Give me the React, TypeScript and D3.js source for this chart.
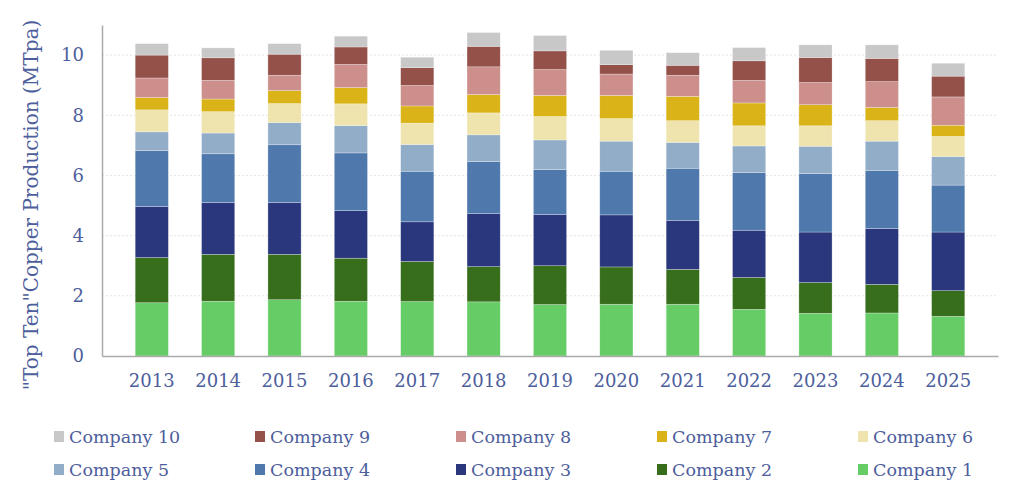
import React, { useEffect, useRef } from "react";
import * as d3 from "d3";

// Production by company, MTpa
const years = ["2013", "2014", "2015", "2016", "2017", "2018", "2019", "2020", "2021", "2022", "2023", "2024", "2025"];
const companies = ["Company 1", "Company 2", "Company 3", "Company 4", "Company 5", "Company 6", "Company 7", "Company 8", "Company 9", "Company 10"];

const company1 = [1.77, 1.82, 1.87, 1.82, 1.81, 1.8, 1.71, 1.72, 1.72, 1.55, 1.42, 1.43, 1.32];
const company2 = [1.5, 1.56, 1.51, 1.43, 1.33, 1.17, 1.29, 1.24, 1.16, 1.06, 1.02, 0.95, 0.85];
const company3 = [1.7, 1.72, 1.72, 1.58, 1.32, 1.76, 1.7, 1.73, 1.63, 1.57, 1.68, 1.86, 1.95];
const company4 = [1.86, 1.62, 1.92, 1.92, 1.68, 1.73, 1.5, 1.45, 1.73, 1.92, 1.94, 1.93, 1.56];
const company5 = [0.62, 0.69, 0.74, 0.91, 0.89, 0.89, 0.98, 1.0, 0.86, 0.88, 0.91, 0.97, 0.95];
const company6 = [0.73, 0.71, 0.63, 0.72, 0.71, 0.73, 0.78, 0.75, 0.72, 0.67, 0.68, 0.68, 0.67];
const company7 = [0.41, 0.42, 0.43, 0.54, 0.57, 0.61, 0.7, 0.77, 0.81, 0.76, 0.7, 0.44, 0.37];
const company8 = [0.65, 0.62, 0.51, 0.77, 0.68, 0.92, 0.86, 0.71, 0.7, 0.75, 0.74, 0.86, 0.94];
const company9 = [0.76, 0.75, 0.7, 0.58, 0.59, 0.68, 0.62, 0.31, 0.33, 0.65, 0.83, 0.77, 0.69];
const company10 = [0.38, 0.33, 0.35, 0.36, 0.35, 0.46, 0.51, 0.48, 0.42, 0.44, 0.42, 0.45, 0.43];

const yTicks = [0, 2, 4, 6, 8, 10];

const colors = ["#66cc66", "#376e1c", "#2b377d", "#4f79ad", "#92adc8", "#efe4ad", "#d9b317", "#cc8f8c", "#93514a", "#c8c8c8"];

const textColor = "#4d5e9c";
const font = "'DejaVu Serif', serif";

const App = () => {
  const ref = useRef<SVGSVGElement>(null);

  useEffect(() => {
    const series = [company1, company2, company3, company4, company5, company6, company7, company8, company9, company10];
    const rows = years.map((year, i) => {
      const row: Record<string, number | string> = { year };
      companies.forEach((c, j) => (row[c] = series[j][i]));
      return row;
    });

    const margin = { top: 25, right: 26, bottom: 132, left: 102 };
    const width = 1024,
      height = 488;
    const innerW = width - margin.left - margin.right;
    const innerH = height - margin.top - margin.bottom;

    const root = d3.select(ref.current);
    root.selectAll("*").remove();
    const svg = root.append("g").attr("transform", `translate(${margin.left},${margin.top})`);

    const x = d3.scaleBand().domain(years).range([0, innerW]).padding(0.5);
    const y = d3.scaleLinear().domain([0, 11]).range([innerH, 0]);

    // Gridlines
    svg
      .selectAll(".grid")
      .data(yTicks.filter((t) => t > 0))
      .enter()
      .append("line")
      .attr("x1", 0)
      .attr("x2", innerW)
      .attr("y1", (d) => y(d))
      .attr("y2", (d) => y(d))
      .attr("stroke", "#e4e4e4")
      .attr("stroke-dasharray", "2,2")
      .attr("stroke-width", 1);

    // Stacked bars
    const stacked = d3.stack<any>().keys(companies)(rows);
    svg
      .selectAll(".layer")
      .data(stacked)
      .enter()
      .append("g")
      .attr("fill", (_d, i) => colors[i])
      .selectAll("rect")
      .data((d) => d)
      .enter()
      .append("rect")
      .attr("x", (d) => x(d.data.year as string)!)
      .attr("y", (d) => y(d[1]))
      .attr("width", x.bandwidth())
      .attr("height", (d) => y(d[0]) - y(d[1]))
      .attr("stroke", "#ffffff")
      .attr("stroke-opacity", 0.45)
      .attr("stroke-width", 0.6);

    // Axes
    const yAxis = svg.append("g").call(d3.axisLeft(y).tickValues(yTicks).tickSize(0).tickPadding(18));
    yAxis.select(".domain").attr("stroke", "#aaaaaa").attr("stroke-width", 1.5);
    yAxis
      .selectAll("text")
      .attr("fill", textColor)
      .style("font-family", font)
      .style("font-size", "18px");

    const xAxis = svg
      .append("g")
      .attr("transform", `translate(0,${innerH})`)
      .call(d3.axisBottom(x).tickSize(0).tickPadding(18));
    xAxis.select(".domain").attr("stroke", "#aaaaaa").attr("stroke-width", 1.5);
    xAxis
      .selectAll("text")
      .attr("fill", textColor)
      .style("font-family", font)
      .style("font-size", "18px");

    // Axis title
    root
      .append("text")
      .attr("transform", `translate(38,205) rotate(-90)`)
      .attr("text-anchor", "middle")
      .attr("fill", textColor)
      .style("font-family", font)
      .style("font-size", "20px")
      .text('"Top Ten"Copper Production (MTpa)');

    // Legend: two rows, five columns, Company 10 first
    const legendOrder = [...companies].reverse();
    const legend = root
      .selectAll(".legend")
      .data(legendOrder)
      .enter()
      .append("g")
      .attr("transform", (_d, i) => `translate(${54 + (i % 5) * 201},${437 + Math.floor(i / 5) * 33})`);

    legend
      .append("rect")
      .attr("x", 0)
      .attr("y", -6)
      .attr("width", 10)
      .attr("height", 11)
      .attr("fill", (d) => colors[companies.indexOf(d)]);

    legend
      .append("text")
      .attr("x", 15)
      .attr("y", 6)
      .attr("fill", textColor)
      .style("font-family", font)
      .style("font-size", "17.5px")
      .text((d) => d);
  }, []);

  return <svg ref={ref} width="1024" height="488" style={{ position: "absolute", left: 0, top: 0 }}></svg>;
};

export default App;
